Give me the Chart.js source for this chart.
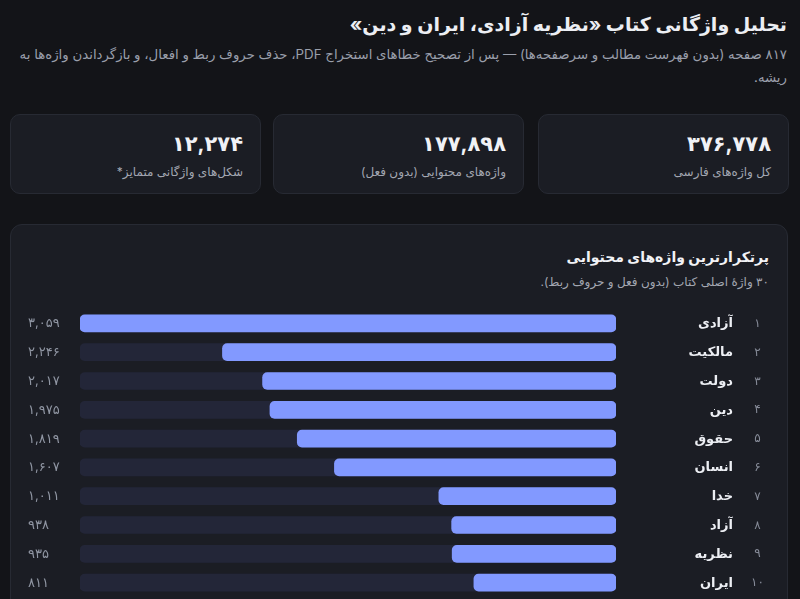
<!DOCTYPE html>
<html lang="fa" dir="rtl">
<head>
<meta charset="utf-8">
<script src="https://cdn.jsdelivr.net/npm/chart.js@4.4.1/dist/chart.umd.min.js"></script>
<style>
  html, body { margin: 0; padding: 0; background: #131418; overflow: hidden; }
  body { width: 800px; height: 599px; position: relative; font-family: Inter, "DejaVu Sans", sans-serif; color: #eceef3; }
  h1 { position: absolute; top: 12px; right: 13px; margin: 0; font-size: 19px; line-height: 26px; font-weight: 700; white-space: nowrap; }
  .lead { position: absolute; top: 43px; right: 13px; left: 12px; margin: 0; font-size: 13.3px; line-height: 23px; color: #9a9fab; }
  .stat { position: absolute; top: 114px; width: 251px; height: 80px; box-sizing: border-box; background: #1b1d24; border: 1px solid #272a33; border-radius: 10px; }
  .stat .num { position: absolute; top: 16px; right: 17px; font-size: 21px; line-height: 26px; font-weight: 700; color: #f1f2f6; }
  .stat .lbl { position: absolute; top: 49px; right: 17px; font-size: 12px; line-height: 16px; color: #a3a7b2; white-space: nowrap; }
  .card { position: absolute; top: 224px; left: 10px; width: 778px; height: 420px; box-sizing: border-box; background: #1b1d24; border: 1px solid #272a33; border-radius: 12px; }
  .card h2 { position: absolute; top: 22px; right: 18px; margin: 0; font-size: 14px; line-height: 20px; font-weight: 700; color: #f1f2f6; }
  .card p { position: absolute; top: 49px; right: 18px; margin: 0; font-size: 12px; line-height: 16px; color: #a3a7b2; }
  .wrap { position: absolute; top: 74px; left: 17px; width: 742px; height: 308px; }
</style>
</head>
<body>
<h1>تحلیل واژگانی کتاب «نظریه آزادی، ایران و دین»</h1>
<p class="lead">۸۱۷ صفحه (بدون فهرست مطالب و سرصفحه‌ها) — پس از تصحیح خطاهای استخراج PDF، حذف حروف ربط و افعال، و بازگرداندن واژه‌ها به ریشه.</p>

<div class="stat" style="left:538px"><div class="num" id="s0"></div><div class="lbl" id="l0"></div></div>
<div class="stat" style="left:273px"><div class="num" id="s1"></div><div class="lbl" id="l1"></div></div>
<div class="stat" style="left:10px"><div class="num" id="s2"></div><div class="lbl" id="l2"></div></div>

<div class="card">
  <h2>پرتکرارترین واژه‌های محتوایی</h2>
  <p>۳۰ واژهٔ اصلی کتاب (بدون فعل و حروف ربط).</p>
  <div class="wrap"><canvas id="chart"></canvas></div>
</div>

<script>
// آمار کلی
const statLabels = ['کل واژه‌های فارسی', 'واژه‌های محتوایی (بدون فعل)', 'شکل‌های واژگانی متمایز*'];
const statValues = [376778, 177898, 12274];

// ده واژهٔ نخست
const ranks = [1, 2, 3, 4, 5, 6, 7, 8, 9, 10];
const words = ['آزادی', 'مالکیت', 'دولت', 'دین', 'حقوق', 'انسان', 'خدا', 'آزاد', 'نظریه', 'ایران'];
const counts = [3059, 2246, 2017, 1975, 1819, 1607, 1011, 938, 935, 811];

const faDigits = '۰۱۲۳۴۵۶۷۸۹';
const toFa = n => n.toLocaleString('en-US').replace(/\d/g, d => faDigits[d]);

statValues.forEach((v, i) => {
  document.getElementById('s' + i).textContent = toFa(v);
  document.getElementById('l' + i).textContent = statLabels[i];
});

const maxCount = Math.max(...counts);
const track = counts.map(() => maxCount); // نوار زمینه تا بیشینه

const FONT = 'Inter, "DejaVu Sans", sans-serif';

new Chart(document.getElementById('chart'), {
  type: 'bar',
  data: {
    labels: words,
    datasets: [
      {
        data: counts,
        backgroundColor: '#8299ff',
        borderRadius: 5,
        borderSkipped: false,
        barThickness: 17,
        grouped: false,
        order: 0,
        xAxisID: 'x', yAxisID: 'y'
      },
      {
        data: track,
        backgroundColor: '#232638',
        borderRadius: 5,
        borderSkipped: false,
        barThickness: 17,
        grouped: false,
        order: 1,
        xAxisID: 'x', yAxisID: 'y'
      }
    ]
  },
  options: {
    indexAxis: 'y',
    responsive: true,
    maintainAspectRatio: false,
    animation: false,
    layout: { padding: { top: 10, bottom: 10 } },
    plugins: { legend: { display: false }, tooltip: { enabled: false } },
    scales: {
      x: { display: false, reverse: true, min: 0, max: maxCount },
      // نام واژه‌ها
      y: {
        type: 'category', position: 'right', weight: 0, offset: true,
        grid: { display: false, drawTicks: false }, border: { display: false },
        ticks: { crossAlign: 'far', padding: 0, color: '#eceef3', font: { family: FONT, size: 13, weight: 'bold' } },
        afterFit: s => { s.width = 117; }
      },
      // شماره رتبه
      yRank: {
        type: 'category', axis: 'y', position: 'right', weight: 1, offset: true,
        labels: ranks.map(toFa),
        grid: { display: false, drawTicks: true, tickLength: 18 }, border: { display: false },
        ticks: { crossAlign: 'center', padding: 0, color: '#868b98', font: { family: FONT, size: 12 } },
        afterFit: s => { s.width = 37; }
      },
      // تعداد
      yVal: {
        type: 'category', axis: 'y', position: 'left', weight: 0, offset: true,
        labels: counts.map(toFa),
        grid: { display: false, drawTicks: false }, border: { display: false },
        ticks: { crossAlign: 'far', padding: 0, color: '#9096a3', font: { family: FONT, size: 13 } },
        afterFit: s => { s.width = 52; }
      }
    }
  }
});
</script>
</body>
</html>
